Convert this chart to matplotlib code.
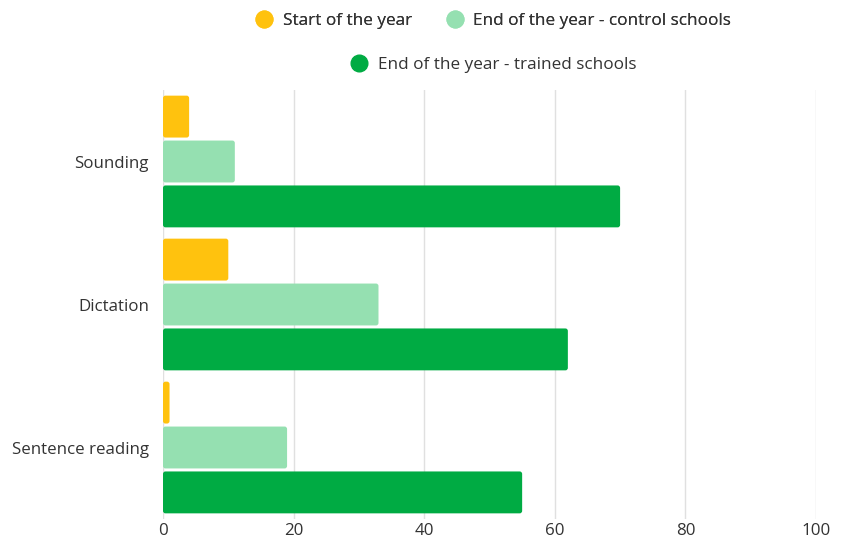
import matplotlib
matplotlib.use("Agg")
import matplotlib.pyplot as plt
from matplotlib.lines import Line2D
from matplotlib.patches import FancyBboxPatch
import numpy as np

plt.rcParams['font.family'] = ['Open Sans', 'DejaVu Sans']

categories = ["Sounding", "Dictation", "Sentence reading"]
series_names = ["Start of the year", "End of the year - control schools",
                "End of the year - trained schools"]
start_year = [4, 10, 1]
end_control = [11, 33, 19]
end_trained = [70, 62, 55]
x_ticks = [0, 20, 40, 60, 80, 100]

colors = ["#FFC20E", "#95E0B1", "#00AB43"]
series = [start_year, end_control, end_trained]

fig = plt.figure(figsize=(8.43, 5.39), dpi=100)
ax_left, ax_right, ax_top, ax_bottom = 163, 816, 90, 519
ax = fig.add_axes([ax_left/843, 1 - ax_bottom/539, (ax_right - ax_left)/843,
                   (ax_bottom - ax_top)/539])

ax.set_xlim(0, 100)
ax.set_ylim(2.5, -0.5)

# pixel size of one data unit, used to keep the bar corner rounding circular
px_x = (ax_right - ax_left) / 100
px_y = (ax_bottom - ax_top) / 3
radius_px = 2.5

y = np.arange(len(categories))
step = 0.314
height = 0.293
for i, (vals, col) in enumerate(zip(series, colors)):
    bars = ax.barh(y + (i - 1) * step, vals, height=height, color=col, zorder=3)
    for b in bars:
        b.set_visible(False)
        x0, y0 = b.get_x(), b.get_y()
        w, h = b.get_width(), b.get_height()
        rounded = FancyBboxPatch((x0, y0), w, h,
                                 boxstyle=f"round,pad=0,rounding_size={radius_px/px_x}",
                                 mutation_aspect=px_x/px_y,
                                 facecolor=col, edgecolor='none', zorder=3)
        ax.add_patch(rounded)

ax.set_xticks(x_ticks)
ax.set_xticklabels([str(t) for t in x_ticks])
ax.set_yticks(y)
ax.set_yticklabels(categories)
ax.tick_params(axis='both', length=0, labelsize=12.2, colors="#333333")
ax.tick_params(axis='x', pad=3)
ax.tick_params(axis='y', pad=10)
ax.grid(axis='x', color="#E0E0E0", linewidth=1, zorder=0)
for s in ax.spines.values():
    s.set_visible(False)

def handle(c):
    return Line2D([], [], marker='o', linestyle='none', markersize=12,
                  markerfacecolor=c, markeredgecolor=c)

leg1 = fig.legend([handle(colors[0]), handle(colors[1])], series_names[:2],
                  loc='center', bbox_to_anchor=(489/843, 1 - 21/539), ncol=2,
                  frameon=False, fontsize=12.3, handletextpad=0.1,
                  columnspacing=1.5, labelcolor="#333333")
leg2 = fig.legend([handle(colors[2])], series_names[2:],
                  loc='center', bbox_to_anchor=(489/843, 1 - 65/539),
                  frameon=False, fontsize=12.3, handletextpad=0.1,
                  labelcolor="#333333")
fig.add_artist(leg1)

fig.savefig("out.png", dpi=100, facecolor="white")
